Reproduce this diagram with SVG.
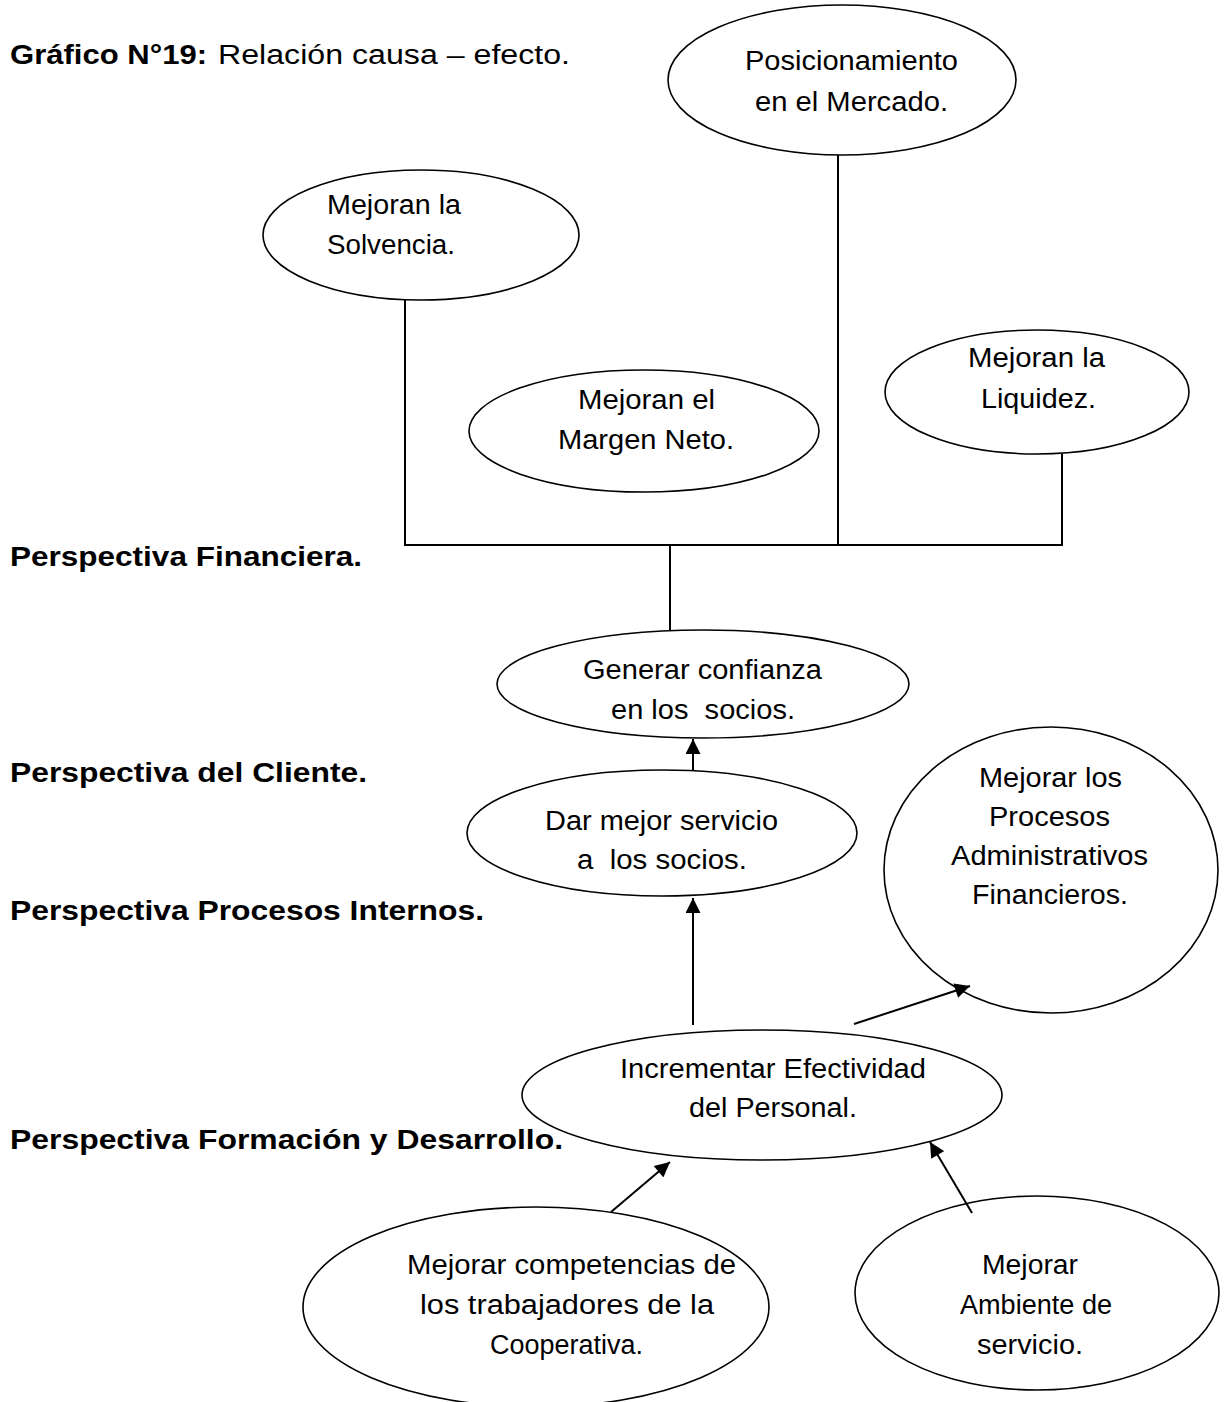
<svg xmlns="http://www.w3.org/2000/svg" width="1227" height="1402" viewBox="0 0 1227 1402">
  <style>
    text { font-family: "Liberation Sans", Arial, sans-serif; font-size: 27px; fill: #000; white-space: pre; }
    .b { font-weight: bold; font-size: 28px; }
    .node ellipse { fill: #fff; stroke: #000; stroke-width: 1.6; }
    .conn line { stroke: #000; stroke-width: 2; fill: none; }
  </style>
  <defs>
    <marker id="arrow" viewBox="0 0 10 10" refX="10" refY="5" markerWidth="8" markerHeight="7.5" orient="auto" markerUnits="strokeWidth">
      <path d="M0,0 L10,5 L0,10 Z" fill="#000"/>
    </marker>
  </defs>
  <rect width="1227" height="1402" fill="#fff"/>

  <!-- Title and perspective labels -->
  <g id="labels">
    <text class="b" x="10" y="64" textLength="197" lengthAdjust="spacingAndGlyphs">Gráfico N°19:</text>
    <text x="218" y="64" textLength="352" lengthAdjust="spacingAndGlyphs">Relación causa – efecto.</text>
    <text class="b" x="10" y="566" textLength="352" lengthAdjust="spacingAndGlyphs">Perspectiva Financiera.</text>
    <text class="b" x="10" y="782" textLength="357" lengthAdjust="spacingAndGlyphs">Perspectiva del Cliente.</text>
    <text class="b" x="10" y="920" textLength="474" lengthAdjust="spacingAndGlyphs">Perspectiva Procesos Internos.</text>
    <text class="b" x="10" y="1149" textLength="553" lengthAdjust="spacingAndGlyphs">Perspectiva Formación y Desarrollo.</text>
  </g>

  <!-- Financial perspective -->
  <g id="posicionamiento" class="node">
    <ellipse cx="842" cy="80" rx="174" ry="75"/>
    <text x="745" y="70" textLength="213" lengthAdjust="spacingAndGlyphs">Posicionamiento</text>
    <text x="755" y="111" textLength="193" lengthAdjust="spacingAndGlyphs">en el Mercado.</text>
  </g>
  <g id="solvencia" class="node">
    <ellipse cx="421" cy="235" rx="158" ry="65"/>
    <text x="327" y="214" textLength="134" lengthAdjust="spacingAndGlyphs">Mejoran la</text>
    <text x="327" y="254" textLength="128" lengthAdjust="spacingAndGlyphs">Solvencia.</text>
  </g>
  <g id="margen-neto" class="node">
    <ellipse cx="644" cy="431" rx="175" ry="61"/>
    <text x="578" y="409" textLength="137" lengthAdjust="spacingAndGlyphs">Mejoran el</text>
    <text x="558" y="449" textLength="176" lengthAdjust="spacingAndGlyphs">Margen Neto.</text>
  </g>
  <g id="liquidez" class="node">
    <ellipse cx="1037" cy="392" rx="152" ry="62"/>
    <text x="968" y="367" textLength="137" lengthAdjust="spacingAndGlyphs">Mejoran la</text>
    <text x="981" y="408" textLength="115" lengthAdjust="spacingAndGlyphs">Liquidez.</text>
  </g>

  <!-- Customer perspective -->
  <g id="confianza" class="node">
    <ellipse cx="703" cy="684" rx="206" ry="54"/>
    <text x="583" y="679" textLength="239" lengthAdjust="spacingAndGlyphs">Generar confianza</text>
    <text x="611" y="719" textLength="184" lengthAdjust="spacingAndGlyphs">en los  socios.</text>
  </g>

  <!-- Internal processes perspective -->
  <g id="servicio" class="node">
    <ellipse cx="662" cy="833" rx="195" ry="63"/>
    <text x="545" y="830" textLength="233" lengthAdjust="spacingAndGlyphs">Dar mejor servicio</text>
    <text x="577" y="869" textLength="170" lengthAdjust="spacingAndGlyphs">a  los socios.</text>
  </g>
  <g id="procesos" class="node">
    <ellipse cx="1051" cy="870" rx="167" ry="143"/>
    <text x="979" y="787" textLength="143" lengthAdjust="spacingAndGlyphs">Mejorar los</text>
    <text x="989" y="826" textLength="121" lengthAdjust="spacingAndGlyphs">Procesos</text>
    <text x="951" y="865" textLength="197" lengthAdjust="spacingAndGlyphs">Administrativos</text>
    <text x="972" y="904" textLength="156" lengthAdjust="spacingAndGlyphs">Financieros.</text>
  </g>

  <!-- Learning and growth perspective -->
  <g id="efectividad" class="node">
    <ellipse cx="762" cy="1095" rx="240" ry="65"/>
    <text x="620" y="1078" textLength="306" lengthAdjust="spacingAndGlyphs">Incrementar Efectividad</text>
    <text x="689" y="1117" textLength="168" lengthAdjust="spacingAndGlyphs">del Personal.</text>
  </g>
  <g id="competencias" class="node">
    <ellipse cx="536" cy="1307" rx="233" ry="100"/>
    <text x="407" y="1274" textLength="329" lengthAdjust="spacingAndGlyphs">Mejorar competencias de</text>
    <text x="420" y="1314" textLength="294" lengthAdjust="spacingAndGlyphs">los trabajadores de la</text>
    <text x="490" y="1354" textLength="153" lengthAdjust="spacingAndGlyphs">Cooperativa.</text>
  </g>
  <g id="ambiente" class="node">
    <ellipse cx="1037" cy="1293" rx="182" ry="97"/>
    <text x="982" y="1274" textLength="96" lengthAdjust="spacingAndGlyphs">Mejorar</text>
    <text x="960" y="1314" textLength="152" lengthAdjust="spacingAndGlyphs">Ambiente de</text>
    <text x="977" y="1354" textLength="106" lengthAdjust="spacingAndGlyphs">servicio.</text>
  </g>

  <!-- Connectors (drawn over the nodes so the arrowheads meet the outlines) -->
  <g id="connectors" class="conn">
    <line x1="405" y1="300" x2="405" y2="545"/>
    <line x1="838" y1="155" x2="838" y2="545"/>
    <line x1="1062" y1="454" x2="1062" y2="545"/>
    <line x1="404" y1="545" x2="1063" y2="545"/>
    <line x1="670" y1="545" x2="670" y2="631"/>
    <line x1="693" y1="770" x2="693" y2="739" marker-end="url(#arrow)"/>
    <line x1="693" y1="1025" x2="693" y2="898" marker-end="url(#arrow)"/>
    <line x1="854" y1="1024" x2="970" y2="986" marker-end="url(#arrow)"/>
    <line x1="611" y1="1212" x2="670" y2="1162" marker-end="url(#arrow)"/>
    <line x1="972" y1="1213" x2="930" y2="1142" marker-end="url(#arrow)"/>
  </g>
</svg>
